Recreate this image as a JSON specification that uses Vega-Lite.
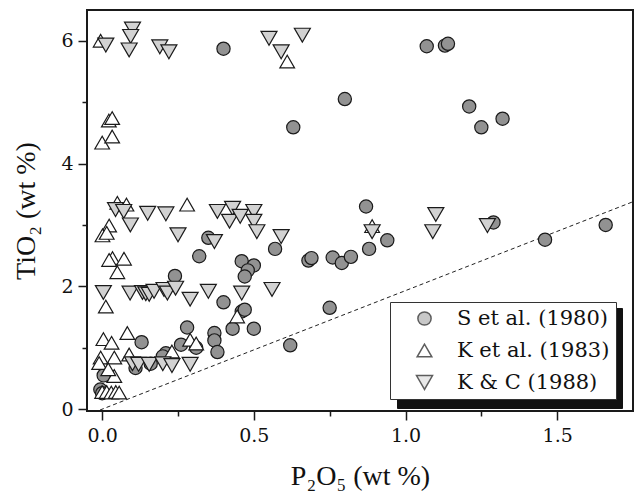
{
  "$schema": "https://vega.github.io/schema/vega-lite/v6.json",
  "width": 546,
  "height": 401,
  "autosize": {"type": "none"},
  "padding": {"left": 87, "top": 10, "right": 3, "bottom": 83},
  "config": {
    "view": {"stroke": "#1a1a1a", "strokeWidth": 2},
    "font": "Liberation Serif",
    "axis": {"labelFont": "DejaVu Serif", "titleFont": "Liberation Serif", "labelColor": "#111", "titleColor": "#111", "titleFontWeight": "normal", "grid": false, "domain": false, "tickColor": "#1a1a1a", "tickWidth": 1.5, "labelFontSize": 19, "titleFontSize": 28},
    "legend": {"labelFont": "DejaVu Serif"}
  },
  "datasets": {
    "pts": [
      {"s": "S et al. (1980)", "p": 0.40, "t": 5.87},
      {"s": "S et al. (1980)", "p": 1.07, "t": 5.91},
      {"s": "S et al. (1980)", "p": 1.13, "t": 5.92},
      {"s": "S et al. (1980)", "p": 1.14, "t": 5.95},
      {"s": "S et al. (1980)", "p": 0.80, "t": 5.05},
      {"s": "S et al. (1980)", "p": 0.63, "t": 4.59},
      {"s": "S et al. (1980)", "p": 1.21, "t": 4.93},
      {"s": "S et al. (1980)", "p": 1.25, "t": 4.59},
      {"s": "S et al. (1980)", "p": 1.32, "t": 4.73},
      {"s": "S et al. (1980)", "p": 0.87, "t": 3.30},
      {"s": "S et al. (1980)", "p": 0.88, "t": 2.61},
      {"s": "S et al. (1980)", "p": 0.94, "t": 2.75},
      {"s": "S et al. (1980)", "p": 0.76, "t": 2.47},
      {"s": "S et al. (1980)", "p": 0.79, "t": 2.38},
      {"s": "S et al. (1980)", "p": 0.82, "t": 2.48},
      {"s": "S et al. (1980)", "p": 1.29, "t": 3.04},
      {"s": "S et al. (1980)", "p": 1.46, "t": 2.76},
      {"s": "S et al. (1980)", "p": 1.66, "t": 3.00},
      {"s": "S et al. (1980)", "p": 0.75, "t": 1.65},
      {"s": "S et al. (1980)", "p": 0.68, "t": 2.42},
      {"s": "S et al. (1980)", "p": 0.69, "t": 2.46},
      {"s": "S et al. (1980)", "p": 0.57, "t": 2.61},
      {"s": "S et al. (1980)", "p": 0.46, "t": 2.41},
      {"s": "S et al. (1980)", "p": 0.50, "t": 2.34},
      {"s": "S et al. (1980)", "p": 0.48, "t": 2.26},
      {"s": "S et al. (1980)", "p": 0.47, "t": 2.16},
      {"s": "S et al. (1980)", "p": 0.35, "t": 2.79},
      {"s": "S et al. (1980)", "p": 0.32, "t": 2.49},
      {"s": "S et al. (1980)", "p": 0.24, "t": 2.17},
      {"s": "S et al. (1980)", "p": 0.40, "t": 1.74},
      {"s": "S et al. (1980)", "p": 0.46, "t": 1.59},
      {"s": "S et al. (1980)", "p": 0.47, "t": 1.62},
      {"s": "S et al. (1980)", "p": 0.43, "t": 1.31},
      {"s": "S et al. (1980)", "p": 0.50, "t": 1.31},
      {"s": "S et al. (1980)", "p": 0.62, "t": 1.04},
      {"s": "S et al. (1980)", "p": 0.37, "t": 1.24},
      {"s": "S et al. (1980)", "p": 0.37, "t": 1.12},
      {"s": "S et al. (1980)", "p": 0.38, "t": 0.93},
      {"s": "S et al. (1980)", "p": 0.28, "t": 1.33},
      {"s": "S et al. (1980)", "p": 0.26, "t": 1.05},
      {"s": "S et al. (1980)", "p": 0.31, "t": 1.00},
      {"s": "S et al. (1980)", "p": 0.13, "t": 1.09},
      {"s": "S et al. (1980)", "p": 0.21, "t": 0.91},
      {"s": "S et al. (1980)", "p": 0.20, "t": 0.86},
      {"s": "S et al. (1980)", "p": 0.16, "t": 0.74},
      {"s": "S et al. (1980)", "p": 0.11, "t": 0.67},
      {"s": "S et al. (1980)", "p": 0.005, "t": 0.55},
      {"s": "S et al. (1980)", "p": -0.006, "t": 0.32},
      {"s": "S et al. (1980)", "p": 0.00, "t": 0.26},
      {"s": "K et al. (1983)", "p": -0.005, "t": 6.00},
      {"s": "K et al. (1983)", "p": 0.61, "t": 5.66},
      {"s": "K et al. (1983)", "p": 0.022, "t": 4.70},
      {"s": "K et al. (1983)", "p": 0.033, "t": 4.74},
      {"s": "K et al. (1983)", "p": 0.00, "t": 4.34},
      {"s": "K et al. (1983)", "p": 0.033, "t": 4.44},
      {"s": "K et al. (1983)", "p": 0.05, "t": 3.36},
      {"s": "K et al. (1983)", "p": 0.08, "t": 3.33},
      {"s": "K et al. (1983)", "p": 0.28, "t": 3.33},
      {"s": "K et al. (1983)", "p": 0.023, "t": 2.99},
      {"s": "K et al. (1983)", "p": 0.001, "t": 2.83},
      {"s": "K et al. (1983)", "p": 0.015, "t": 2.87},
      {"s": "K et al. (1983)", "p": 0.034, "t": 2.46},
      {"s": "K et al. (1983)", "p": 0.023, "t": 2.43},
      {"s": "K et al. (1983)", "p": 0.072, "t": 2.45},
      {"s": "K et al. (1983)", "p": 0.05, "t": 2.23},
      {"s": "K et al. (1983)", "p": 0.012, "t": 1.67},
      {"s": "K et al. (1983)", "p": 0.445, "t": 1.51},
      {"s": "K et al. (1983)", "p": 0.083, "t": 1.24},
      {"s": "K et al. (1983)", "p": 0.004, "t": 1.14},
      {"s": "K et al. (1983)", "p": 0.031, "t": 1.08},
      {"s": "K et al. (1983)", "p": -0.005, "t": 0.84},
      {"s": "K et al. (1983)", "p": 0.04, "t": 0.84},
      {"s": "K et al. (1983)", "p": 0.089, "t": 0.89},
      {"s": "K et al. (1983)", "p": 0.23, "t": 0.94},
      {"s": "K et al. (1983)", "p": 0.29, "t": 1.13},
      {"s": "K et al. (1983)", "p": 0.31, "t": 1.07},
      {"s": "K et al. (1983)", "p": 0.04, "t": 0.54},
      {"s": "K et al. (1983)", "p": -0.01, "t": 0.75},
      {"s": "K et al. (1983)", "p": 0.02, "t": 0.65},
      {"s": "K et al. (1983)", "p": 0.0, "t": 0.28},
      {"s": "K et al. (1983)", "p": 0.015, "t": 0.28},
      {"s": "K et al. (1983)", "p": 0.03, "t": 0.27},
      {"s": "K et al. (1983)", "p": 0.045, "t": 0.28},
      {"s": "K et al. (1983)", "p": 0.056, "t": 0.27},
      {"s": "K et al. (1983)", "p": 0.89, "t": 2.98},
      {"s": "K & C (1988)", "p": 0.012, "t": 5.93},
      {"s": "K & C (1988)", "p": 0.10, "t": 6.19},
      {"s": "K & C (1988)", "p": 0.094, "t": 6.07},
      {"s": "K & C (1988)", "p": 0.089, "t": 5.85},
      {"s": "K & C (1988)", "p": 0.19, "t": 5.90},
      {"s": "K & C (1988)", "p": 0.22, "t": 5.82},
      {"s": "K & C (1988)", "p": 0.55, "t": 6.04},
      {"s": "K & C (1988)", "p": 0.59, "t": 5.82},
      {"s": "K & C (1988)", "p": 0.66, "t": 6.09},
      {"s": "K & C (1988)", "p": 0.044, "t": 3.25},
      {"s": "K & C (1988)", "p": 0.071, "t": 3.22},
      {"s": "K & C (1988)", "p": 0.093, "t": 3.00},
      {"s": "K & C (1988)", "p": 0.15, "t": 3.19},
      {"s": "K & C (1988)", "p": 0.21, "t": 3.18},
      {"s": "K & C (1988)", "p": 0.25, "t": 2.84},
      {"s": "K & C (1988)", "p": 0.37, "t": 2.73},
      {"s": "K & C (1988)", "p": 0.38, "t": 3.22},
      {"s": "K & C (1988)", "p": 0.43, "t": 3.27},
      {"s": "K & C (1988)", "p": 0.42, "t": 3.06},
      {"s": "K & C (1988)", "p": 0.455, "t": 3.14},
      {"s": "K & C (1988)", "p": 0.50, "t": 3.22},
      {"s": "K & C (1988)", "p": 0.50, "t": 3.06},
      {"s": "K & C (1988)", "p": 0.51, "t": 2.89},
      {"s": "K & C (1988)", "p": 0.59, "t": 2.81},
      {"s": "K & C (1988)", "p": 1.10, "t": 3.17},
      {"s": "K & C (1988)", "p": 1.09, "t": 2.89},
      {"s": "K & C (1988)", "p": 1.27, "t": 2.99},
      {"s": "K & C (1988)", "p": 0.89, "t": 2.89},
      {"s": "K & C (1988)", "p": 0.004, "t": 1.90},
      {"s": "K & C (1988)", "p": 0.092, "t": 1.89},
      {"s": "K & C (1988)", "p": 0.133, "t": 1.90},
      {"s": "K & C (1988)", "p": 0.144, "t": 1.88},
      {"s": "K & C (1988)", "p": 0.155, "t": 1.87},
      {"s": "K & C (1988)", "p": 0.171, "t": 1.92},
      {"s": "K & C (1988)", "p": 0.204, "t": 1.95},
      {"s": "K & C (1988)", "p": 0.215, "t": 1.89},
      {"s": "K & C (1988)", "p": 0.242, "t": 1.97},
      {"s": "K & C (1988)", "p": 0.29, "t": 1.79},
      {"s": "K & C (1988)", "p": 0.35, "t": 1.92},
      {"s": "K & C (1988)", "p": 0.46, "t": 1.89},
      {"s": "K & C (1988)", "p": 0.56, "t": 1.95},
      {"s": "K & C (1988)", "p": 0.10, "t": 0.74},
      {"s": "K & C (1988)", "p": 0.12, "t": 0.73},
      {"s": "K & C (1988)", "p": 0.155, "t": 0.73},
      {"s": "K & C (1988)", "p": 0.20, "t": 0.74},
      {"s": "K & C (1988)", "p": 0.23, "t": 0.71},
      {"s": "K & C (1988)", "p": 0.29, "t": 0.73}
    ],
    "ref": [
      {"p": -0.05, "t": -0.0965},
      {"p": 1.75, "t": 3.378}
    ]
  },
  "layer": [
    {
      "data": {"name": "ref"},
      "mark": {"type": "line", "clip": true, "color": "#222", "strokeWidth": 1, "strokeDash": [4, 3]},
      "encoding": {
        "x": {"field": "p", "type": "quantitative"},
        "y": {"field": "t", "type": "quantitative"}
      }
    },
    {
      "data": {"name": "pts"},
      "mark": {"type": "point", "filled": true, "stroke": "#1a1a1a", "strokeWidth": 1.2},
      "encoding": {
        "x": {
          "field": "p", "type": "quantitative",
          "scale": {"domain": [-0.05, 1.75], "nice": false, "zero": false},
          "axis": {
            "title": "P₂O₅ (wt %)",
            "values": [0, 0.25, 0.5, 0.75, 1, 1.25, 1.5],
            "labelExpr": "datum.value % 0.5 == 0 ? format(datum.value, '.1f') : ''",
            "tickSize": {"condition": {"test": "datum.value % 0.5 == 0", "value": 9}, "value": 5},
            "labelFont": "DejaVu Serif",
            "labelPadding": 6,
            "titlePadding": 17,
            "labelFlush": false,
            "labelOverlap": false
          }
        },
        "y": {
          "field": "t", "type": "quantitative",
          "scale": {"domain": [-0.03, 6.5], "nice": false, "zero": false},
          "axis": {
            "title": "TiO₂ (wt %)",
            "values": [0, 1, 2, 3, 4, 5, 6],
            "labelExpr": "datum.value % 2 == 0 ? format(datum.value, 'd') : ''",
            "tickSize": {"condition": {"test": "datum.value % 2 == 0", "value": 9}, "value": 5},
            "labelFont": "DejaVu Serif",
            "labelPadding": 5,
            "titlePadding": 20,
            "labelFlush": false,
            "labelOverlap": false
          }
        },
        "shape": {
          "field": "s", "type": "nominal",
          "scale": {"domain": ["S et al. (1980)", "K et al. (1983)", "K & C (1988)"], "range": ["circle", "triangle-up", "triangle-down"]},
          "legend": {
            "title": null, "orient": "none", "legendX": 303, "legendY": 292, "zindex": 2,
            "fillColor": "white", "strokeColor": "#333", "labelFont": "DejaVu Serif", "labelLimit": 300,
            "padding": 6, "labelFontSize": 21, "labelColor": "#111", "symbolOffset": 18, "labelOffset": 22, "rowPadding": 10,
            "encode": {"symbols": {"update": {"stroke": {"value": "#1a1a1a"}, "strokeWidth": {"value": 1.2}}}}
          }
        },
        "fill": {
          "field": "s", "type": "nominal",
          "scale": {"domain": ["S et al. (1980)", "K et al. (1983)", "K & C (1988)"], "range": ["#929292", "#ffffff", "#d2d2d2"]},
          "legend": {
            "title": null, "orient": "none", "legendX": 303, "legendY": 292, "zindex": 2,
            "fillColor": "white", "strokeColor": "#333", "labelFont": "DejaVu Serif", "labelLimit": 300,
            "padding": 6, "labelFontSize": 21, "labelColor": "#111", "symbolOffset": 18, "labelOffset": 22, "rowPadding": 10,
            "encode": {"symbols": {"update": {"stroke": {"value": "#1a1a1a"}, "strokeWidth": {"value": 1.2}}}}
          }
        },
        "size": {
          "field": "s", "type": "nominal",
          "scale": {"domain": ["S et al. (1980)", "K et al. (1983)", "K & C (1988)"], "range": [175, 256, 256]},
          "legend": {
            "title": null, "orient": "none", "legendX": 303, "legendY": 292, "zindex": 2,
            "fillColor": "white", "strokeColor": "#333", "labelFont": "DejaVu Serif", "labelLimit": 300,
            "padding": 6, "labelFontSize": 21, "labelColor": "#111", "symbolOffset": 18, "labelOffset": 22, "rowPadding": 10,
            "encode": {"symbols": {"update": {"stroke": {"value": "#1a1a1a"}, "strokeWidth": {"value": 1.2}}}}
          }
        },
        "opacity": {
          "field": "s", "type": "ordinal",
          "scale": {"range": [1, 1, 1]},
          "legend": {
            "title": null, "orient": "none", "legendX": 310, "legendY": 298, "zindex": 1,
            "fillColor": "#111", "strokeColor": "#111", "labelFont": "DejaVu Serif", "labelLimit": 300,
            "padding": 6, "labelFontSize": 21, "labelColor": "#111", "symbolOffset": 18, "labelOffset": 21, "rowPadding": 10, "symbolSize": 256,
            "encode": {"symbols": {"update": {"fill": {"value": "#111"}, "stroke": {"value": "#111"}}}}
          }
        }
      }
    }
  ]
}
